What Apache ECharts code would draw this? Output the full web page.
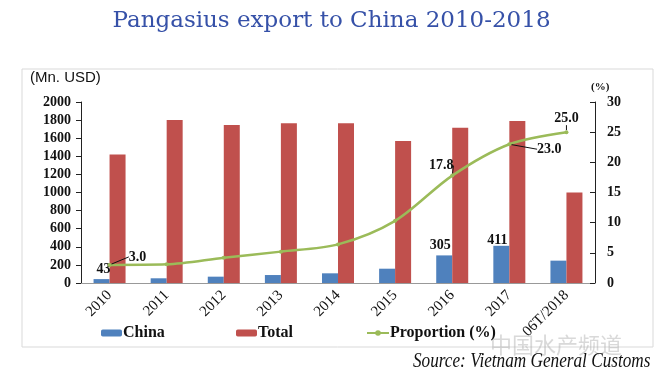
<!DOCTYPE html>
<html>
<head>
<meta charset="utf-8">
<script src="https://cdn.jsdelivr.net/npm/echarts@6/dist/echarts.min.js"></script>
<style>
  html, body { margin: 0; padding: 0; background: #fff; }
  #main { width: 663px; height: 376px; }
</style>
</head>
<body>
<div id="main"></div>
<script>
var years = ['2010', '2011', '2012', '2013', '2014', '2015', '2016', '2017', '06T/2018']
var chinaValues = [43, 52, 70, 88, 107, 158, 305, 411, 247]
var totalValues = [1420, 1800, 1745, 1765, 1765, 1570, 1715, 1790, 1000]
var proportionValues = [3.0, 3.1, 4.2, 5.2, 6.4, 10.3, 17.8, 23.0, 25.0]
// which points carry a value label
var chinaLabelIdx = [0, 6, 7]
var propLabelIdx = [0, 6, 7, 8]

var serif = '"Liberation Serif", "Times New Roman", serif'

var chart = echarts.init(document.getElementById('main'))

var chinaOffsets = { 0: [2, 0], 6: [-4, 0], 7: [-4, 5] }
var chinaData = chinaValues.map(function (v, i) {
  var item = { value: v }
  if (chinaLabelIdx.indexOf(i) >= 0) {
    item.label = { show: true, position: 'top', distance: 3, offset: chinaOffsets[i] }
  }
  return item
})

// label shift from the point (dx, dy); leader lines drawn by echarts
var propShift = { 0: [28, -8], 6: [-11, -10], 7: [40, 5], 8: [0, -14] }
var propData = proportionValues.map(function (v, i) {
  var item = { value: v }
  if (propLabelIdx.indexOf(i) >= 0) {
    item.label = { show: true, position: 'inside' }
  }
  return item
})

var legendText = { fontFamily: serif, fontWeight: 'bold', fontSize: 16, color: '#111', padding: [0, 0, 0, -4] }

chart.setOption({
  animation: false,
  title: {
    text: 'Pangasius export to China 2010-2018',
    left: 'center',
    top: 5,
    textStyle: { fontFamily: '"DejaVu Serif", serif', fontWeight: 'normal', fontSize: 23, color: '#3651a8' }
  },
  graphic: [
    { type: 'rect', shape: { x: 22, y: 69, width: 631, height: 278 }, style: { fill: 'none', stroke: '#d9d9d9', lineWidth: 1 } },
    { type: 'text', left: 30, top: 70, style: { text: '(Mn. USD)', font: '15px "Liberation Sans", Arial, sans-serif', fill: '#111' } },
    { type: 'text', left: 591, top: 82, style: { text: '(%)', font: 'bold 11px ' + serif, fill: '#111' } },
    { type: 'text', left: 490, top: 334, style: { text: '中国水产频道', font: '22px "Noto Sans CJK SC", sans-serif', fill: 'rgba(170,170,170,0.45)' } },
    { type: 'text', x: 413, y: 352, scaleX: 0.86, style: { text: 'Source: Vietnam General Customs', font: 'italic 20px ' + serif, fill: '#111' } }
  ],
  grid: { left: 81, right: 68, top: 102, bottom: 93 },
  legend: [
    { data: ['China'], left: 101, top: 325, padding: 0, itemWidth: 21, itemHeight: 7, textStyle: legendText },
    { data: ['Total'], left: 236, top: 325, padding: 0, itemWidth: 21, itemHeight: 7, textStyle: legendText },
    { data: ['Proportion (%)'], left: 366, top: 325, padding: 0, itemWidth: 22, itemHeight: 7, textStyle: legendText }
  ],
  xAxis: {
    type: 'category',
    data: years,
    axisLine: { lineStyle: { color: '#999' } },
    axisTick: { show: false },
    axisLabel: { rotate: 45, interval: 0, margin: 10, fontFamily: serif, fontSize: 15, color: '#111' }
  },
  yAxis: [
    {
      type: 'value', min: 0, max: 2000, interval: 200,
      splitLine: { show: false },
      axisLine: { show: true, lineStyle: { color: '#222' } },
      axisTick: { show: true, length: 5, lineStyle: { color: '#222' } },
      axisLabel: { formatter: function (v) { return String(v) }, fontFamily: serif, fontWeight: 'bold', fontSize: 14, color: '#111', margin: 10 }
    },
    {
      type: 'value', min: 0, max: 30, interval: 5,
      splitLine: { show: false },
      axisLine: { show: true, lineStyle: { color: '#222' } },
      axisTick: { show: true, inside: true, length: 5, lineStyle: { color: '#222' } },
      axisLabel: { fontFamily: serif, fontWeight: 'bold', fontSize: 14, color: '#111', margin: 12 }
    }
  ],
  series: [
    {
      name: 'China', type: 'bar', data: chinaData, barWidth: 16, barGap: '0%',
      itemStyle: { color: '#4f81bd' },
      label: { show: false, fontFamily: serif, fontWeight: 'bold', fontSize: 14, color: '#111' }
    },
    {
      name: 'Total', type: 'bar', data: totalValues, barWidth: 16,
      itemStyle: { color: '#c0504d' }
    },
    {
      name: 'Proportion (%)', type: 'line', yAxisIndex: 1, data: propData,
      symbol: 'circle', symbolSize: 4,
      itemStyle: { color: '#9bbb59' },
      lineStyle: { color: '#9bbb59', width: 2.5 },
      smooth: 0.3,
      label: {
        show: false, fontFamily: serif, fontWeight: 'bold', fontSize: 14, color: '#111',
        formatter: function (p) { return p.value.toFixed(1) }
      },
      labelLine: { show: true, lineStyle: { color: '#111', width: 1 } },
      labelLayout: function (p) {
        var s = propShift[p.dataIndex] || [0, 0]
        return { dx: s[0], dy: s[1] }
      }
    }
  ]
})
</script>
</body>
</html>
